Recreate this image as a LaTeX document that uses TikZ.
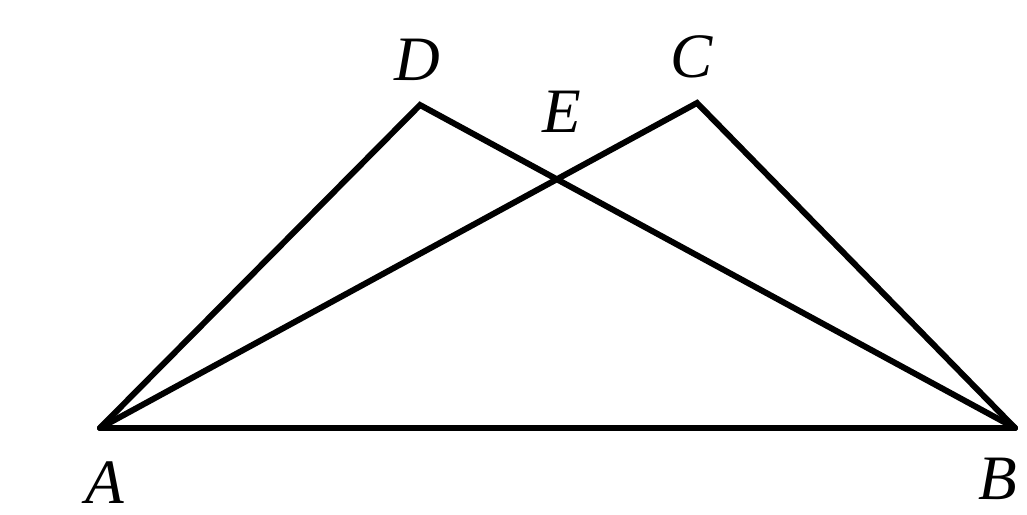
\documentclass[tikz,border=0pt]{standalone}
\usepackage{fontspec}
\setmainfont{Liberation Serif}
\begin{document}
\begin{tikzpicture}[x=1cm,y=1cm,
  edge/.style={line width=1.7pt,line join=miter,line cap=round},
  lbl/.style={font=\fontsize{18}{20}\selectfont\itshape,inner sep=0pt}]
\useasboundingbox (0,0) rectangle (10.27,5.15);
\coordinate (A) at (1.00,0.87);
\coordinate (B) at (10.15,0.87);
\coordinate (D) at (4.20,4.10);
\coordinate (C) at (6.97,4.12);
\coordinate (E) at (intersection of A--C and D--B);
\draw[edge] (A) -- (D) -- (B);
\draw[edge] (A) -- (C) -- (B);
\draw[edge] (A) -- (B);
\node[lbl] (lA) at (1.05,0.32) {A};
\node[lbl] (lB) at (9.98,0.36) {B};
\node[lbl] (lD) at (4.17,4.55) {D};
\node[lbl] (lC) at (6.92,4.58) {C};
\node[lbl] (lE) at (5.62,4.03) {E};
\end{tikzpicture}
\end{document}
